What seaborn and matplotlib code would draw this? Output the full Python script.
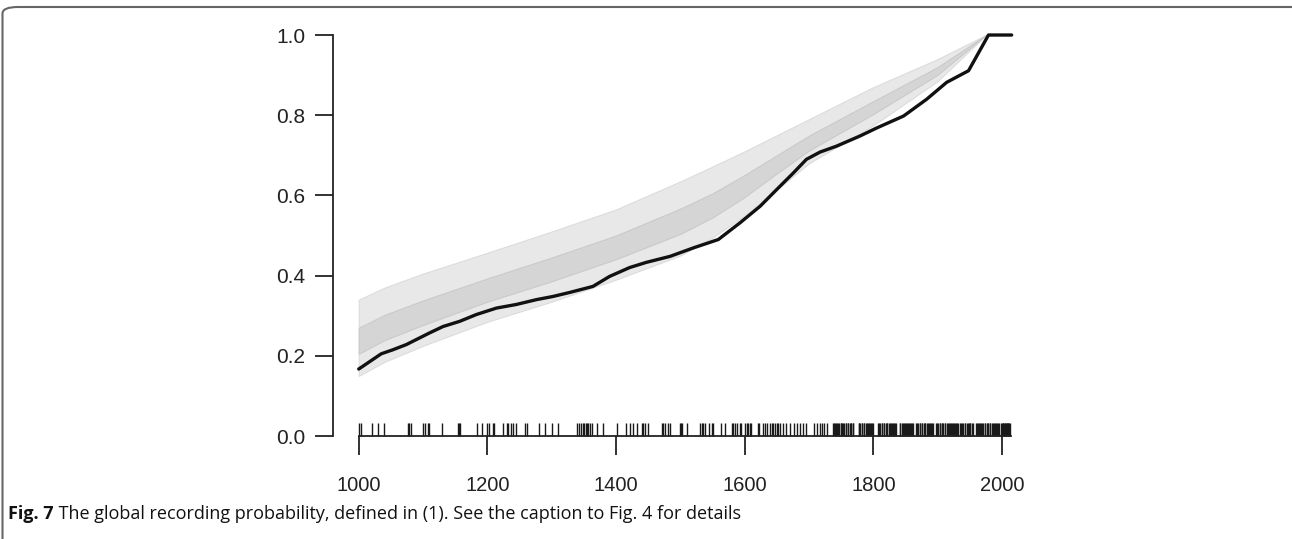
import numpy as np
import pandas as pd
import matplotlib
matplotlib.use("Agg")
import matplotlib.pyplot as plt
from matplotlib.patches import FancyBboxPatch
import seaborn as sns

# ---------------- data ----------------
line_years = [1000, 1035, 1053, 1074, 1110, 1131, 1157, 1183, 1214, 1245, 1276, 1302,
              1328, 1364, 1390, 1421, 1447, 1484, 1520, 1559, 1593, 1624, 1650, 1675,
              1696, 1717, 1743, 1779, 1805, 1847, 1883, 1914, 1948, 1979, 2015]
line_vals = [0.167, 0.205, 0.215, 0.228, 0.257, 0.273, 0.286, 0.303, 0.319, 0.328, 0.340,
             0.348, 0.358, 0.373, 0.398, 0.420, 0.433, 0.448, 0.469, 0.490, 0.532, 0.573,
             0.615, 0.655, 0.690, 0.708, 0.723, 0.748, 0.768, 0.798, 0.840, 0.882, 0.911,
             1.000, 1.000]

band_years = [1000, 1040, 1100, 1200, 1300, 1400, 1500, 1550, 1600, 1650, 1700, 1800, 1900, 1975]
outer_hi = [0.340, 0.370, 0.405, 0.457, 0.510, 0.565, 0.635, 0.672, 0.710, 0.750, 0.790, 0.870, 0.940, 1.000]
inner_hi = [0.270, 0.302, 0.338, 0.393, 0.445, 0.500, 0.567, 0.605, 0.651, 0.700, 0.749, 0.835, 0.920, 1.000]
inner_lo = [0.205, 0.239, 0.277, 0.335, 0.386, 0.441, 0.504, 0.545, 0.596, 0.655, 0.712, 0.803, 0.901, 1.000]
outer_lo = [0.150, 0.185, 0.225, 0.285, 0.335, 0.390, 0.450, 0.495, 0.550, 0.615, 0.680, 0.775, 0.885, 1.000]

rug_years = [
    1000, 1003, 1021, 1030, 1039, 1076, 1078, 1082, 1100, 1103, 1107, 1109, 1129,
    1154, 1156, 1158, 1184, 1191, 1200, 1203, 1209, 1211, 1225, 1230, 1232, 1236,
    1240, 1244, 1258, 1262, 1281, 1290, 1301, 1310, 1340, 1343, 1345, 1348, 1350,
    1353, 1355, 1357, 1359, 1362, 1370, 1380, 1401, 1416, 1421, 1427, 1432, 1440,
    1442, 1445, 1450, 1471, 1473, 1476, 1481, 1484, 1499, 1501, 1503, 1510, 1530,
    1533, 1535, 1538, 1544, 1549, 1551, 1563, 1569, 1580, 1582, 1585, 1588, 1592,
    1595, 1600, 1603, 1605, 1608, 1610, 1621, 1623, 1628, 1631, 1635, 1639, 1642,
    1644, 1647, 1650, 1652, 1655, 1660, 1664, 1670, 1676, 1681, 1686, 1691, 1695,
    1707, 1712, 1717, 1720, 1723, 1728,
    1738, 1739, 1741, 1742, 1744, 1745, 1747, 1749, 1750, 1752, 1753, 1755, 1757,
    1758, 1760, 1761, 1763, 1765, 1766, 1768, 1769,
    1777, 1778, 1780, 1782, 1783, 1785, 1786, 1788, 1790, 1791, 1793, 1795, 1796,
    1798, 1800,
    1808, 1809, 1811, 1813, 1814, 1816, 1817, 1819, 1821, 1822, 1824, 1826, 1827,
    1829, 1830, 1832, 1834, 1835,
    1841, 1842, 1844, 1846, 1847, 1849, 1850, 1852, 1854, 1855, 1857, 1859, 1860, 1862,
    1867, 1868, 1870, 1872, 1873, 1875, 1876, 1878, 1880, 1881, 1883, 1885, 1886,
    1888, 1889, 1891, 1893,
    1898, 1899, 1901, 1903, 1904, 1906, 1907, 1909, 1911, 1912, 1914, 1916, 1917,
    1919, 1920, 1922, 1924, 1925, 1927, 1929, 1930, 1932, 1934,
    1937, 1938, 1940, 1942, 1943, 1945, 1947, 1948, 1950, 1951, 1953, 1955,
    1960, 1961, 1963, 1965, 1966, 1968, 1969, 1971, 1973, 1974, 1976, 1978, 1979,
    1981, 1982, 1984, 1986, 1987, 1989, 1991, 1992, 1994, 1996,
    1999, 2000, 2001, 2002, 2003, 2004, 2005, 2006, 2007, 2008, 2009, 2010, 2011, 2012,
]

x_ticks = [1000, 1200, 1400, 1600, 1800, 2000]
y_ticks = [0.0, 0.2, 0.4, 0.6, 0.8, 1.0]
caption_bold = "Fig. 7"
caption_rest = " The global recording probability, defined in (1). See the caption to Fig. 4 for details"

# ---------------- figure ----------------
sns.set_theme(style="white")
plt.rcParams["font.family"] = ["Liberation Sans", "DejaVu Sans"]

W, H = 1292, 539
fig = plt.figure(figsize=(W / 100, H / 100), dpi=100)
ax_l, ax_r = 333 / W, 1021.3 / W
ax_b, ax_t = (H - 436) / H, (H - 27) / H
ax = fig.add_axes([ax_l, ax_b, ax_r - ax_l, ax_t - ax_b])

ax.fill_between(band_years, outer_lo, outer_hi, color="#e8e8e8", lw=0.8,
                edgecolor="#dcdcdc", zorder=1)
ax.fill_between(band_years, inner_lo, inner_hi, color="#d5d5d5", lw=0.8,
                edgecolor="#cacaca", zorder=2)

df = pd.DataFrame({"year": line_years, "p": line_vals})
sns.lineplot(data=df, x="year", y="p", ax=ax, color="#111111", lw=2.4, zorder=3,
             estimator=None, sort=False)

ax_h_px = (ax_t - ax_b) * H
sns.rugplot(x=rug_years, ax=ax, height=13 / ax_h_px, color="#1a1a1a", lw=0.9,
            clip_on=False)

ax.set_xlim(960, 2030)
ax.set_ylim(0, 1.02)
ax.set_xlabel("")
ax.set_ylabel("")
ax.set_xticks(x_ticks)
ax.set_yticks(y_ticks)
ax.set_xticklabels([str(v) for v in x_ticks])
ax.set_yticklabels([f"{v:.1f}" for v in y_ticks])

for s in ["top", "right"]:
    ax.spines[s].set_visible(False)
for s in ["left", "bottom"]:
    ax.spines[s].set_color("#222222")
    ax.spines[s].set_linewidth(1.3)
ax.spines["left"].set_bounds(0, 1)
ax.spines["bottom"].set_bounds(1000, 2014)

ax.tick_params(axis="y", direction="out", length=13, width=1.3, color="#222222",
               pad=7, labelsize=15, labelcolor="#222222", left=True)
ax.tick_params(axis="x", direction="out", length=14, width=1.3, color="#222222",
               pad=15, labelsize=14.5, labelcolor="#222222", bottom=True)
ax.grid(False)
ax.patch.set_alpha(0)

# frame (top + left, rounded corner)
frame = FancyBboxPatch((2.5 / W, -0.2), 1.3, (H - 7) / H + 0.2,
                       boxstyle="round,pad=0,rounding_size=0.012",
                       transform=fig.transFigure, fill=False, edgecolor="#666666",
                       lw=1.5, clip_on=False)
fig.patches.append(frame)

# caption
cap_y = (H - 519) / H
fig.canvas.draw()
r = fig.canvas.get_renderer()
t1 = fig.text(8 / W, cap_y, caption_bold, fontsize=13, fontweight="bold",
              family=["Open Sans", "DejaVu Sans"], va="baseline", color="#111111")
bb = t1.get_window_extent(renderer=r)
fig.text(bb.x1 / W, cap_y, caption_rest, fontsize=13,
         family=["Open Sans", "DejaVu Sans"], va="baseline", color="#111111")

fig.savefig("out.png", dpi=100)
